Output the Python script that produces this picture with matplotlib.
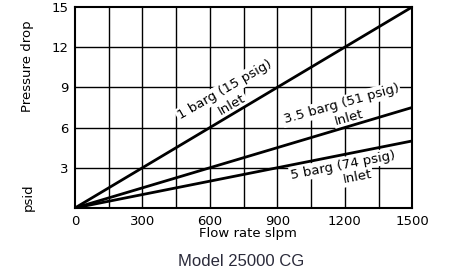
import numpy as np
import matplotlib.pyplot as plt

# flow rate (slpm) and pressure drop (psid) at the ends of each curve
flow = [0, 1500]
drop_1barg = [0, 15]
drop_35barg = [0, 7.5]
drop_5barg = [0, 5]

x_ticks = [0, 300, 600, 900, 1200, 1500]
y_ticks = [3, 6, 9, 12, 15]

fig = plt.figure(figsize=(4.52, 2.78), dpi=100)
ax = fig.add_axes([0.166, 0.252, 0.746, 0.723])

ax.set_xlim(0, 1500)
ax.set_ylim(0, 15)

# grid: verticals every 150, horizontals every 3
for gx in np.arange(150, 1500, 150):
    ax.axvline(gx, color="black", lw=1.0, zorder=1)
for gy in y_ticks[:-1]:
    ax.axhline(gy, color="black", lw=1.0, zorder=1)

ax.plot(flow, drop_1barg, color="black", lw=2.0, zorder=3)
ax.plot(flow, drop_35barg, color="black", lw=2.0, zorder=3)
ax.plot(flow, drop_5barg, color="black", lw=2.0, zorder=3)

box = dict(facecolor="white", edgecolor="none", pad=1.0)
lab = dict(fontsize=9.5, ha="center", va="center", rotation_mode="anchor",
           bbox=box, zorder=2.5)
ax.text(665, 8.8, "1 barg (15 psig)", rotation=30, **lab)
ax.text(699, 7.68, "Inlet", rotation=30, **lab)
ax.text(1184, 7.75, "3.5 barg (51 psig)", rotation=15.5, **lab)
ax.text(1220, 6.75, "Inlet", rotation=15.5, **lab)
ax.text(1193, 3.2, "5 barg (74 psig)", rotation=11, **lab)
ax.text(1255, 2.3, "Inlet", rotation=11, **lab)

ax.set_xticks(x_ticks)
ax.set_yticks(y_ticks)
ax.tick_params(length=0, labelsize=9.5, pad=5)
for s in ax.spines.values():
    s.set_linewidth(1.5)
    s.set_zorder(4)

fig.text(248 / 452, 1 - 233 / 278, "Flow rate slpm", fontsize=9.5,
         ha="center", va="center")
fig.text(28 / 452, 1 - 66 / 278, "Pressure drop", fontsize=9.5,
         rotation=90, ha="center", va="center")
fig.text(28 / 452, 1 - 197 / 278, "psid", fontsize=9.5,
         rotation=90, ha="center", va="center")
fig.text(241 / 452, 1 - 262 / 278, "Model 25000 CG", fontsize=12,
         family="Liberation Sans", color="#2a2a3a", ha="center", va="center")

fig.savefig("out.png", dpi=100)
